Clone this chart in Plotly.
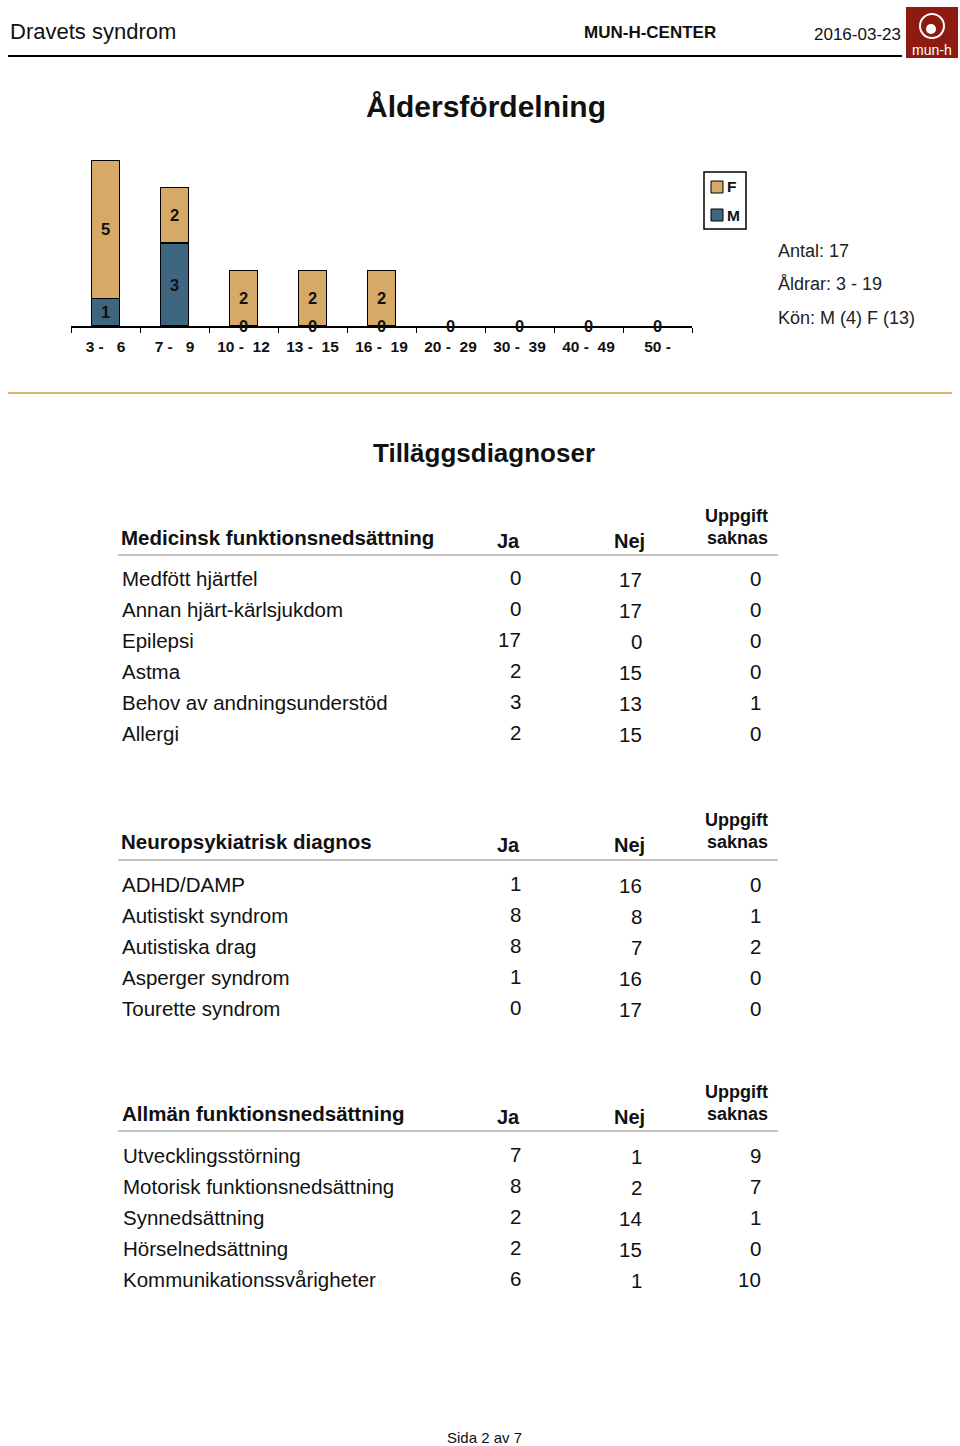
import plotly.graph_objects as go

W, H = 960, 1446

# --- data ---------------------------------------------------------------
age_groups = ["3 -\u00a0\u00a0\u00a06", "7 -\u00a0\u00a0\u00a09", "10 -\u00a0\u00a012", "13 -\u00a0\u00a015",
              "16 -\u00a0\u00a019", "20 -\u00a0\u00a029", "30 -\u00a0\u00a039", "40 -\u00a0\u00a049", "50 -"]
male = [1, 3, 0, 0, 0, 0, 0, 0, 0]
female = [5, 2, 2, 2, 2, 0, 0, 0, 0]

summary_lines = ["Antal: 17", "Åldrar: 3 - 19", "Kön: M (4) F (13)"]

col_headers = ["Ja", "Nej"]

med_title = "Medicinsk funktionsnedsättning"
med_rows = ["Medfött hjärtfel", "Annan hjärt-kärlsjukdom", "Epilepsi", "Astma",
            "Behov av andningsunderstöd", "Allergi"]
med_ja = [0, 0, 17, 2, 3, 2]
med_nej = [17, 17, 0, 15, 13, 15]
med_saknas = [0, 0, 0, 0, 1, 0]

neu_title = "Neuropsykiatrisk diagnos"
neu_rows = ["ADHD/DAMP", "Autistiskt syndrom", "Autistiska drag", "Asperger syndrom",
            "Tourette syndrom"]
neu_ja = [1, 8, 8, 1, 0]
neu_nej = [16, 8, 7, 16, 17]
neu_saknas = [0, 1, 2, 0, 0]

gen_title = "Allmän funktionsnedsättning"
gen_rows = ["Utvecklingsstörning", "Motorisk funktionsnedsättning", "Synnedsättning",
            "Hörselnedsättning", "Kommunikationssvårigheter"]
gen_ja = [7, 8, 2, 2, 6]
gen_nej = [1, 2, 14, 15, 1]
gen_saknas = [9, 7, 1, 0, 10]

F_COL = "#D6AA66"
M_COL = "#3E6680"
FONT = "Liberation Sans, Arial, sans-serif"


def px(x):
    return x / W


def py(y):
    return 1 - y / H


fig = go.Figure()
fig.add_trace(go.Bar(x=age_groups, y=male, name="M", marker_color=M_COL,
                     marker_line=dict(color="black", width=[1.2 if v else 0 for v in male]),
                     width=0.41, showlegend=False))
fig.add_trace(go.Bar(x=age_groups, y=female, name="F", marker_color=F_COL,
                     marker_line=dict(color="black", width=[1.2 if v else 0 for v in female]),
                     width=0.41, showlegend=False))

ann = []
shapes = []


def text(x, y, s, size, anchor="left", bold=False, color="#111"):
    # annotations carry a couple of px of padding; compensate so x is the ink edge
    if anchor == "left":
        x -= 2
    elif anchor == "right":
        x += 2
    ann.append(dict(x=px(x), y=py(y), xref="paper", yref="paper", text=f"<b>{s}</b>" if bold else s,
                    showarrow=False, xanchor=anchor, yanchor="middle",
                    font=dict(size=size, color=color, family=FONT)))


# bar value labels
for cat, m, f in zip(age_groups, male, female):
    ann.append(dict(x=cat, y=m / 2, xref="x", yref="y", text=f"<b>{m}</b>", showarrow=False,
                    font=dict(size=16.5, color="#111", family=FONT)))
    if f > 0:
        ann.append(dict(x=cat, y=m + f / 2, xref="x", yref="y", text=f"<b>{f}</b>",
                        showarrow=False, font=dict(size=16.5, color="#111", family=FONT)))

# legend box (drawn by hand to get the compact look)
shapes.append(dict(type="rect", xref="paper", yref="paper", x0=px(704), x1=px(746), y0=py(229), y1=py(172),
                   line=dict(color="black", width=1.5), fillcolor="white"))
for i, (name, col) in enumerate([("F", F_COL), ("M", M_COL)]):
    yc = 187 + i * 28
    shapes.append(dict(type="rect", xref="paper", yref="paper", x0=px(711), x1=px(723),
                       y0=py(yc + 6), y1=py(yc - 6), fillcolor=col, line=dict(color="black", width=1)))
    text(727, yc, name, 15.5, bold=True)

# header
text(10, 31, "Dravets syndrom", 22)
text(650, 32, "MUN-H-CENTER", 17, anchor="center", bold=True)
text(901, 34, "2016-03-23", 17, anchor="right")
shapes.append(dict(type="line", xref="paper", yref="paper", x0=px(8), x1=px(902), y0=py(56), y1=py(56),
                   line=dict(color="black", width=2)))
shapes.append(dict(type="rect", xref="paper", yref="paper", x0=px(906), x1=px(958), y0=py(58), y1=py(7),
                   fillcolor="#8E1B12", line=dict(width=0)))
shapes.append(dict(type="circle", xref="paper", yref="paper", x0=px(920), x1=px(944), y0=py(38), y1=py(14),
                   line=dict(color="white", width=2)))
shapes.append(dict(type="circle", xref="paper", yref="paper", x0=px(926), x1=px(936), y0=py(34), y1=py(24),
                   fillcolor="white", line=dict(width=0)))
text(932, 50, "mun-h", 14, anchor="center", color="white")

text(486, 107, "Åldersfördelning", 30, anchor="center", bold=True)

for i, s in enumerate(summary_lines):
    text(778, 251 + i * 33.5, s, 18, color="#222")

shapes.append(dict(type="line", xref="paper", yref="paper", x0=px(8), x1=px(952), y0=py(393), y1=py(393),
                   line=dict(color="#D9B46E", width=2)))

text(484, 453, "Tilläggsdiagnoser", 26, anchor="center", bold=True)


def table(title, rows, ja, nej, saknas, ytitle, yline, yrow, x0=121):
    text(x0, ytitle, title, 20.5, bold=True)
    text(509, ytitle + 4, col_headers[0], 20, anchor="center", bold=True)
    text(629, ytitle + 4, col_headers[1], 20, anchor="center", bold=True)
    text(736, ytitle - 21, "Uppgift", 18, anchor="center", bold=True)
    text(737, ytitle + 1, "saknas", 18, anchor="center", bold=True)
    shapes.append(dict(type="line", xref="paper", yref="paper", x0=px(118), x1=px(778),
                       y0=py(yline), y1=py(yline), line=dict(color="#B0B0B0", width=1.5)))
    for i, (r, a, b, c) in enumerate(zip(rows, ja, nej, saknas)):
        y = yrow + i * 31
        text(x0 + 1, y, r, 20.5)
        text(521, y - 1, str(a), 20.5, anchor="right")
        text(642, y + 1, str(b), 20.5, anchor="right")
        text(761, y, str(c), 20.5, anchor="right")


table(med_title, med_rows, med_ja, med_nej, med_saknas, 537, 555, 578)
table(neu_title, neu_rows, neu_ja, neu_nej, neu_saknas, 841, 860, 884)
table(gen_title, gen_rows, gen_ja, gen_nej, gen_saknas, 1113, 1131, 1155, x0=122)

text(484, 1437, "Sida 2 av 7", 15, anchor="center")

fig.update_layout(
    width=W, height=H, autosize=False,
    margin=dict(l=0, r=0, t=0, b=0, pad=0),
    paper_bgcolor="white", plot_bgcolor="white",
    barmode="stack", bargap=0.59,
    font=dict(family=FONT, color="#111"),
    showlegend=False,
    annotations=ann, shapes=shapes,
)
fig.update_xaxes(domain=[px(71), px(692)], showline=True, linecolor="black", linewidth=1.5,
                 ticks="outside", tickson="boundaries", ticklen=5, tickcolor="black",
                 tickfont=dict(size=15.5, family=FONT, color="#111", weight="bold"),
                 ticklabelstandoff=6, showgrid=False, fixedrange=True)
fig.update_yaxes(domain=[py(326), py(160)], range=[0, 6], visible=False, fixedrange=True)

fig.write_html("out.html", config={"displayModeBar": False},
               post_script="document.body.style.margin='0';document.body.style.padding='0';")
